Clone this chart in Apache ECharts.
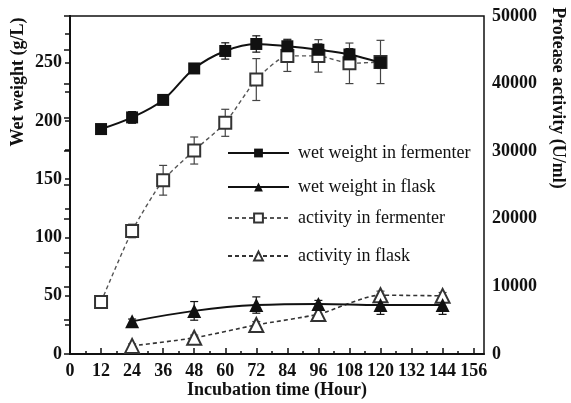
<!DOCTYPE html>
<html>
<head>
<meta charset="utf-8">
<script src="https://cdn.jsdelivr.net/npm/echarts@6/dist/echarts.min.js"></script>
<style>
html,body{margin:0;padding:0;background:#fff;}
#chart{width:571px;height:403px;}
</style>
</head>
<body>
<div id="chart"></div>
<script>
// sampling times (h)
var hoursFermenter = [12, 24, 36, 48, 60, 72, 84, 96, 108, 120];
var hoursFlask = [24, 48, 72, 96, 120, 144];

// wet weight (g/L), left axis
var wetFermenter = [193, 203, 218, 245, 260, 266, 264, 261, 257, 250];
var wetFermenterErr = [2, 5, 3, 4, 7, 7, 6, 5, 5, 5];
var wetFlask = [28, 37, 42, 43, 42, 42];
var wetFlaskErr = [2, 8, 7, 3, 8, 8];

// protease activity (U/ml), right axis
var actFermenter = [7700, 18200, 25700, 30100, 34200, 40600, 44100, 44100, 43000, 43200];
var actFermenterErr = [400, 1000, 2200, 2000, 2000, 3100, 2300, 2400, 3000, 3200];
var actFlask = [1200, 2400, 4300, 5900, 8700, 8600];
var actFlaskErr = [300, 400, 500, 600, 600, 500];

// ticks
var xMajor = [0, 12, 24, 36, 48, 60, 72, 84, 96, 108, 120, 132, 144, 156];
var xMinor = [6, 18, 30, 42, 54, 66, 78, 90, 102, 114, 126, 138, 150];
var leftLabels = [0, 50, 100, 150, 200, 250];
var leftTicks = [0, 25, 50, 75, 100, 125, 150, 175, 200, 225, 250, 275];

var serif = 'Liberation Serif';
var ink = '#111';

function pairs(xs, ys){
	var out = [];
	for(var i=0;i<xs.length;i++){
		out.push([xs[i], ys[i]]);
	}
	return out;
}
function errRows(xs, ys, es){
	var out = [];
	for(var i=0;i<xs.length;i++){
		out.push([xs[i], ys[i]-es[i], ys[i]+es[i]]);
	}
	return out;
}
function errorBar(color){
	return function(params, api){
		var x = api.value(0);
		var top = api.coord([x, api.value(2)]);
		var bot = api.coord([x, api.value(1)]);
		var w = 4;
		var st = {stroke: color, lineWidth: 1.2};
		return {
			type: 'group',
			children: [
				{type:'line', shape:{x1:top[0], y1:top[1], x2:bot[0], y2:bot[1]}, style:st},
				{type:'line', shape:{x1:top[0]-w, y1:top[1], x2:top[0]+w, y2:top[1]}, style:st},
				{type:'line', shape:{x1:bot[0]-w, y1:bot[1], x2:bot[0]+w, y2:bot[1]}, style:st}
			]
		};
	};
}
function errSeries(yIdx, rows, color){
	return {
		type: 'custom',
		xAxisIndex: 0,
		yAxisIndex: yIdx,
		coordinateSystem: 'cartesian2d',
		renderItem: errorBar(color),
		encode: {x: 0, y: [1, 2]},
		data: rows,
		silent: true,
		z: 1
	};
}
function legendRow(name, y){
	return {
		data: [name],
		left: 227,
		top: y - 10,
		padding: 0,
		itemWidth: 61,
		itemHeight: 11,
		selectedMode: false,
		textStyle: {fontFamily: serif, fontSize: 18, color: ink, lineHeight: 20, padding: [0,0,0,4]}
	};
}
function plain(v){
	return String(v);
}

var charts = echarts.init(document.getElementById('chart'));
var option = {
	animation: false,
	backgroundColor: '#fff',
	grid: {
		left: 70, right: 87, top: 16, bottom: 49,
		outerBoundsMode: 'none',
		show: true, borderColor: ink, borderWidth: 1.5
	},
	legend: [
		legendRow('wet weight in fermenter', 153),
		legendRow('wet weight in flask', 187),
		legendRow('activity in fermenter', 218),
		legendRow('activity in flask', 256)
	],
	xAxis: [{
		type: 'value',
		min: 0, max: 160,
		name: 'Incubation time (Hour)',
		nameLocation: 'middle',
		nameGap: 27,
		nameMoveOverlap: false,
		nameTextStyle: {fontFamily: serif, fontSize: 18, fontWeight: 'bold', color: ink},
		axisLine: {lineStyle: {color: ink, width: 2}},
		axisTick: {inside: true, length: 6, customValues: xMajor, lineStyle: {color: ink, width: 1.5}},
		axisLabel: {customValues: xMajor, margin: 8, formatter: plain, fontFamily: serif, fontSize: 18, fontWeight: 'bold', color: ink},
		splitLine: {show: false}
	}, {
		type: 'value',
		min: 0, max: 160,
		position: 'bottom',
		axisLine: {show: false},
		axisTick: {inside: true, length: 3, customValues: xMinor, lineStyle: {color: ink, width: 1.5}},
		axisLabel: {show: false},
		splitLine: {show: false}
	}],
	yAxis: [{
		type: 'value',
		min: 0, max: 290,
		position: 'left',
		axisLine: {show: true, lineStyle: {color: ink, width: 2}},
		axisTick: {show: true, length: 5, customValues: leftTicks, lineStyle: {color: ink, width: 1.5}},
		axisLabel: {customValues: leftLabels, margin: 8, formatter: plain, fontFamily: serif, fontSize: 18, fontWeight: 'bold', color: ink},
		splitLine: {show: false}
	}, {
		type: 'value',
		min: 0, max: 50000,
		interval: 10000,
		position: 'right',
		axisLine: {show: true, lineStyle: {color: ink, width: 2}},
		axisTick: {show: true, inside: true, length: 6, lineStyle: {color: ink, width: 1.5}},
		minorTick: {show: true, splitNumber: 2, length: 6, lineStyle: {color: ink, width: 1.5}},
		axisLabel: {margin: 8, formatter: plain, fontFamily: serif, fontSize: 18, fontWeight: 'bold', color: ink},
		splitLine: {show: false}
	}],
	graphic: [{
		type: 'text', x: 18, y: 82, rotation: Math.PI / 2,
		style: {text: 'Wet weight (g/L)', fontFamily: serif, fontSize: 18, fontWeight: 'bold', fill: ink, align: 'center', verticalAlign: 'middle'}
	}, {
		type: 'text', x: 558, y: 98, rotation: -Math.PI / 2,
		style: {text: 'Protease activity (U/ml)', fontFamily: serif, fontSize: 18, fontWeight: 'bold', fill: ink, align: 'center', verticalAlign: 'middle'}
	}],
	series: [
		errSeries(0, errRows(hoursFermenter, wetFermenter, wetFermenterErr), ink),
		errSeries(0, errRows(hoursFlask, wetFlask, wetFlaskErr), ink),
		errSeries(1, errRows(hoursFermenter, actFermenter, actFermenterErr), '#444'),
		errSeries(1, errRows(hoursFlask, actFlask, actFlaskErr), '#444'),
		{
			name: 'activity in fermenter',
			type: 'line',
			yAxisIndex: 1,
			data: pairs(hoursFermenter, actFermenter),
			smooth: 0.2,
			symbol: 'emptyRect',
			symbolSize: 12,
			color: '#333',
			itemStyle: {borderWidth: 1.4},
			lineStyle: {color: '#555', width: 1.4, type: [4, 3]},
			z: 3
		},
		{
			name: 'activity in flask',
			type: 'line',
			yAxisIndex: 1,
			data: pairs(hoursFlask, actFlask),
			smooth: 0.25,
			symbol: 'emptyTriangle',
			symbolSize: 14,
			color: '#333',
			itemStyle: {borderWidth: 1.4},
			lineStyle: {color: '#333', width: 1.6, type: [4, 3]},
			z: 3
		},
		{
			name: 'wet weight in fermenter',
			type: 'line',
			yAxisIndex: 0,
			data: pairs(hoursFermenter, wetFermenter),
			smooth: 0.35,
			symbol: 'rect',
			symbolSize: 12,
			color: ink,
			lineStyle: {color: ink, width: 2},
			z: 4
		},
		{
			name: 'wet weight in flask',
			type: 'line',
			yAxisIndex: 0,
			data: pairs(hoursFlask, wetFlask),
			smooth: 0.4,
			symbol: 'triangle',
			symbolSize: 14,
			color: ink,
			lineStyle: {color: ink, width: 2},
			z: 4
		}
	]
};
charts.setOption(option);
</script>
</body>
</html>
